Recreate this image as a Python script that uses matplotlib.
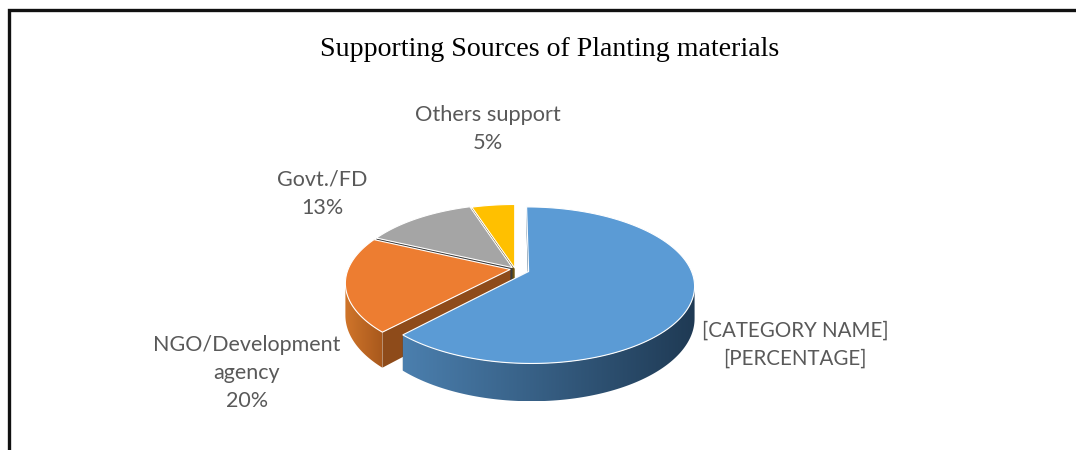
import numpy as np
import matplotlib
matplotlib.use('Agg')
import matplotlib.pyplot as plt
from matplotlib.colors import LinearSegmentedColormap
from matplotlib.patches import Polygon

title = 'Supporting Sources of Planting materials'
categories = ['[CATEGORY NAME]', 'NGO/Development\nagency', 'Govt./FD', 'Others support']
values = [62, 20, 13, 5]
percent_labels = ['[PERCENTAGE]', '20%', '13%', '5%']

colors = ['#5B9BD5', '#ED7D31', '#A5A5A5', '#FFC000']
inner_colors = ['#2F5878', '#8E4B1A', '#3A3A3A', '#6E5410']
wall_colors = [('#4B7FAE', '#1F3A54'), ('#D0752A', '#A9591D'),
               ('#7C7C7C', '#5A5A5A'), ('#BF9000', '#8F6C00')]
explode = [0.09, 0.03, 0.025, 0.012]
label_pos = [(795, 345), (247, 373), (322, 194), (488, 129)]
label_size = [14.8, 15.5, 15.5, 15.7]

# pie placement in pixels, with a simple perspective on the disc
CX, CY = 515, 269
RX, RY = 162, 75
TILT = 0.174
DEPTH = 31


def project(theta, r, u0, v0):
    u = r * np.sin(theta) + u0
    v = r * np.cos(theta) + v0
    s = 1 / (1 + TILT * v)
    return CX + RX * u * s, CY - RY * v * s, s


def gradient_fill(ax, pts, c0, c1):
    cmap = LinearSegmentedColormap.from_list('wall', [c0, c1])
    x0, x1 = pts[:, 0].min(), pts[:, 0].max()
    y0, y1 = pts[:, 1].min(), pts[:, 1].max()
    im = ax.imshow(np.linspace(0, 1, 256)[None, :], cmap=cmap, aspect='auto',
                   extent=(x0, x1, y1, y0), zorder=2)
    im.set_clip_path(Polygon(pts, transform=ax.transData))


fig = plt.figure(figsize=(10.76, 4.5), dpi=100)
ax = fig.add_axes([0, 0, 1, 1])

fractions = np.array(values) / sum(values)
edges = np.concatenate([[0], np.cumsum(fractions)]) * 2 * np.pi

# back slices first so the big one ends up on top
for i in [3, 2, 1, 0]:
    t0, t1 = edges[i], edges[i + 1]
    mid = (t0 + t1) / 2
    u0, v0 = explode[i] * np.sin(mid), explode[i] * np.cos(mid)
    theta = np.linspace(t0, t1, 200)
    arc_x, arc_y, s = project(theta, 1.0, u0, v0)
    ox, oy, os_ = project(0.0, 0.0, u0, v0)

    # cut faces, the leading edge goes last because it is the one in front
    for x, y, sc in [(arc_x[-1], arc_y[-1], s[-1]), (arc_x[0], arc_y[0], s[0])]:
        face = [(ox, oy), (x, y), (x, y + DEPTH * sc), (ox, oy + DEPTH * os_)]
        ax.add_patch(Polygon(face, closed=True, facecolor=inner_colors[i],
                             edgecolor='none', zorder=2))

    # outer rim, only the part facing the viewer
    front = np.cos(theta) < -TILT
    if front.any():
        fx, fy, fs = arc_x[front], arc_y[front], s[front]
        rim = np.column_stack([np.r_[fx, fx[::-1]],
                               np.r_[fy, (fy + DEPTH * fs)[::-1]]])
        gradient_fill(ax, rim, wall_colors[i][0], wall_colors[i][1])

    top = np.column_stack([np.r_[ox, arc_x], np.r_[oy, arc_y]])
    ax.add_patch(Polygon(top, closed=True, facecolor=colors[i],
                         edgecolor='white', linewidth=0.8, zorder=2))

for name, pct, (lx, ly), size in zip(categories, percent_labels, label_pos, label_size):
    ax.text(lx, ly, name + '\n' + pct, ha='center', va='center', fontsize=size,
            family='Lato', color='#595959', linespacing=1.5, zorder=3)

ax.text(549.5, 50, title, ha='center', va='center', fontsize=20.1,
        family='Liberation Serif', color='black')

# frame around the chart, open on the right and at the bottom
ax.plot([9, 9, 1076], [450, 10, 10], color='#111111', lw=2.4,
        solid_joinstyle='miter', zorder=4)

ax.set_xlim(0, 1076)
ax.set_ylim(450, 0)
ax.axis('off')
fig.savefig('out.png', dpi=100, facecolor='white')
